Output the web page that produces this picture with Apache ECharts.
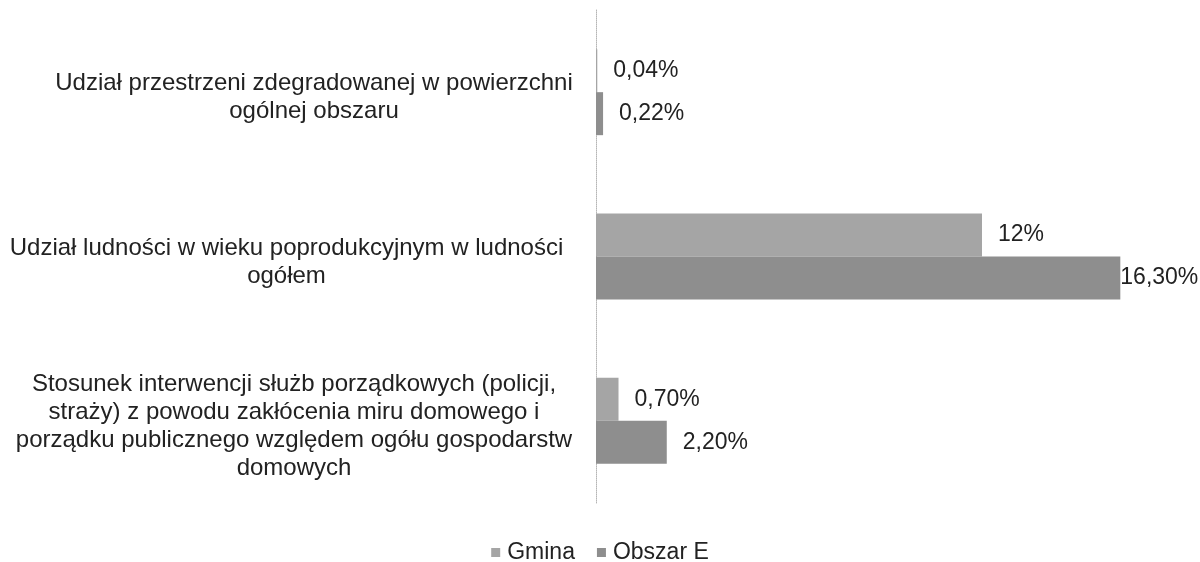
<!DOCTYPE html>
<html><head><meta charset="utf-8">
<script src="https://cdn.jsdelivr.net/npm/echarts@6/dist/echarts.min.js"></script>
<style>html,body{margin:0;padding:0;background:#fff}#c{width:1200px;height:562px}</style>
</head><body><div id="c"></div>
<script>
const categories = [
  "Udział przestrzeni zdegradowanej w powierzchni\nogólnej obszaru",
  "Udział ludności w wieku poprodukcyjnym w ludności\nogółem",
  "Stosunek interwencji służb porządkowych (policji,\nstraży) z powodu zakłócenia miru domowego i\nporządku publicznego względem ogółu gospodarstw\ndomowych"
];
const gminaValues = [0.04, 12, 0.7];
const gminaLabels = ["0,04%", "12%", "0,70%"];
const obszarValues = [0.22, 16.3, 2.2];
const obszarLabels = ["0,22%", "16,30%", "2,20%"];
const seriesNames = ["Gmina", "Obszar E"];

const FONT = "Liberation Sans, Arial, sans-serif";
const labelBase = {align: 'center', fontSize: 24, lineHeight: 28, color: '#222', fontFamily: FONT};
const chart = echarts.init(document.getElementById('c'));
chart.setOption({
  animation: false,
  backgroundColor: '#fff',
  textStyle: {fontFamily: FONT},
  grid: {left: 596, right: 25, top: 10, bottom: 59, containLabel: false, outerBoundsMode: 'none'},
  legend: {
    bottom: -7, left: 'center', itemWidth: 9, itemHeight: 9, itemGap: 22,
    icon: 'rect',
    textStyle: {fontSize: 23, color: '#222', fontFamily: FONT, padding: [0,0,0,2]},
    data: seriesNames
  },
  xAxis: {type: 'value', min: 0, max: 18, show: false},
  yAxis: {
    type: 'category', inverse: true, data: categories,
    axisLine: {show: true, lineStyle: {color: '#b5b5b5', width: 1, type: 'dotted'}},
    axisTick: {show: false},
    axisLabel: {
      margin: 14,
      padding: [11, 0, 0, 0],
      formatter: function (v, i) {
        return v.split('\n').map(function (l) { return '{c' + i + '|' + l + '}'; }).join('\n');
      },
      rich: {
        c0: Object.assign({width: 536}, labelBase),
        c1: Object.assign({width: 591}, labelBase),
        c2: Object.assign({width: 576}, labelBase)
      }
    }
  },
  series: [
    {
      name: seriesNames[0], type: 'bar', barWidth: 43, barGap: '0%',
      itemStyle: {color: '#a5a5a5'},
      data: gminaValues,
      label: {show: true, position: 'right', distance: 16, fontSize: 23, color: '#222', fontFamily: FONT,
        formatter: function (p) { return gminaLabels[p.dataIndex]; }}
    },
    {
      name: seriesNames[1], type: 'bar', barWidth: 43, barGap: '0%',
      itemStyle: {color: '#8e8e8e'},
      data: obszarValues.map(function (v, i) {
        return i === 1 ? {value: v, label: {distance: 0}} : v;
      }),
      label: {show: true, position: 'right', distance: 16, fontSize: 23, color: '#222', fontFamily: FONT,
        formatter: function (p) { return obszarLabels[p.dataIndex]; }}
    }
  ]
});
</script></body></html>
